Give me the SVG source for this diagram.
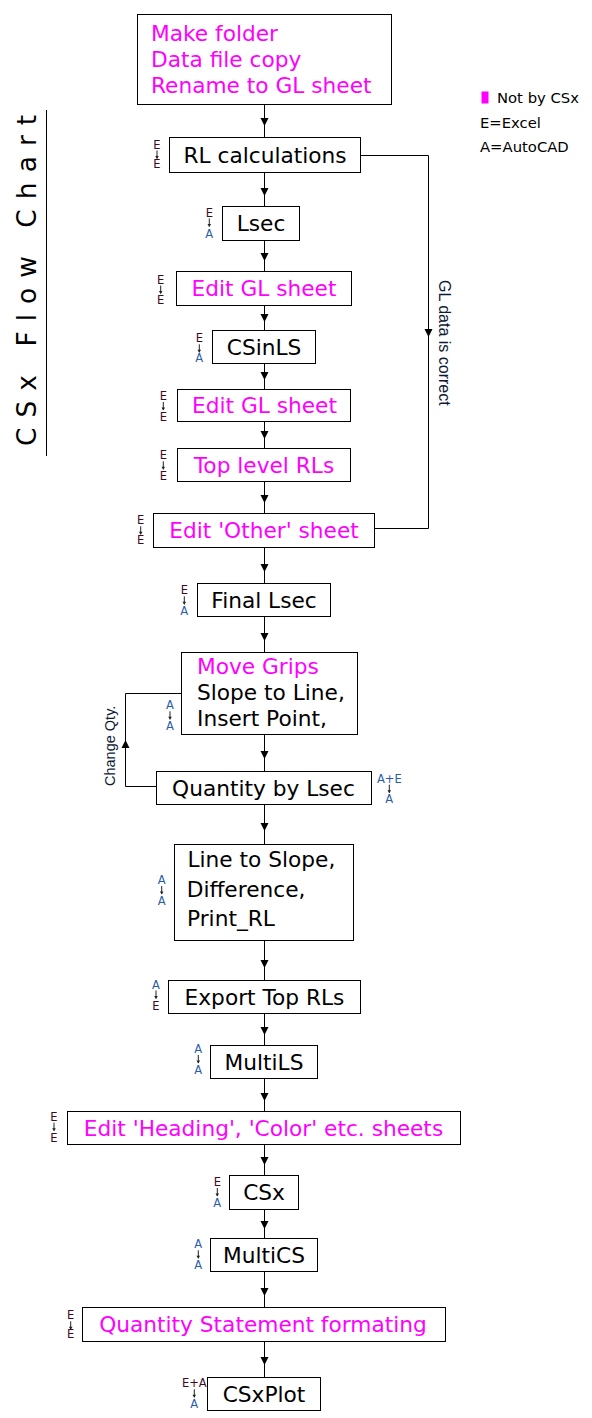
<svg xmlns="http://www.w3.org/2000/svg" width="592" height="1418" viewBox="0 0 592 1418">
<style>
.box{fill:#fff;stroke:#000;stroke-width:1}
.t{font-family:"DejaVu Sans",Verdana,sans-serif;font-size:21.7px;fill:#000}
.m{fill:#ff00ff}
.c{text-anchor:middle}
.ln{fill:none;stroke:#000;stroke-width:1}
.ah{fill:#000}
.lb{font-family:"DejaVu Sans",Verdana,sans-serif;font-size:11.5px;text-anchor:middle}
.e{fill:#3d0a28}
.a{fill:#2a5da8}
.sa{stroke:#222;stroke-width:1}
.lg{font-family:"DejaVu Sans",Verdana,sans-serif;font-size:14.8px;fill:#000}
.side{font-family:"Liberation Sans",Arial,sans-serif;fill:#0d1a33}
</style>
<defs>
<g id="sarr"><line class="sa" x1="0" y1="2" x2="0" y2="10"/><path d="M-1.8,7.5 L1.8,7.5 L0,10.5 Z" fill="#222"/></g>
</defs>

<g id="title">
<text transform="translate(36,446) rotate(-90)" style="font-family:'DejaVu Sans',Verdana,sans-serif;font-size:26.5px;letter-spacing:10px" fill="#000">CSx Flow Chart</text>
<line x1="46.5" y1="110" x2="46.5" y2="456" stroke="#000" stroke-width="1"/>
</g>

<g id="legend">
<rect x="481.5" y="91.5" width="7" height="12" fill="#ff00ff"/>
<text class="lg" x="497" y="103">Not by CSx</text>
<text class="lg" x="480" y="128">E=Excel</text>
<text class="lg" x="480" y="152">A=AutoCAD</text>
</g>

<g id="connectors">
<path class="ln" d="M264.5,104.5 V137.5 M264.5,172.5 V206.5 M264.5,240.5 V271.5 M264.5,305.5 V330.5 M264.5,363.5 V389.5 M264.5,421.5 V448.5 M264.5,481.5 V513.5 M264.5,547.5 V583.5 M264.5,616.5 V652.5 M264.5,734.5 V771.5 M264.5,804.5 V844.5 M264.5,940.5 V980.5 M264.5,1013.5 V1045.5 M264.5,1078.5 V1111.5 M264.5,1144.5 V1175.5 M264.5,1209.5 V1238.5 M264.5,1271.5 V1307.5 M264.5,1341.5 V1377.5"/>
<path class="ln" d="M360.5,155.5 H428.5 V528.5 H374.5"/>
<path class="ln" d="M156.5,786.5 H125.5 V693.5 H181.5"/>
<g class="ah">
<path d="M260.5,118 h8 l-4,8 z"/>
<path d="M260.5,188 h8 l-4,8 z"/>
<path d="M260.5,253 h8 l-4,8 z"/>
<path d="M260.5,314 h8 l-4,8 z"/>
<path d="M260.5,372 h8 l-4,8 z"/>
<path d="M260.5,431 h8 l-4,8 z"/>
<path d="M260.5,495 h8 l-4,8 z"/>
<path d="M260.5,564 h8 l-4,8 z"/>
<path d="M260.5,633 h8 l-4,8 z"/>
<path d="M260.5,751 h8 l-4,8 z"/>
<path d="M260.5,823 h8 l-4,8 z"/>
<path d="M260.5,960 h8 l-4,8 z"/>
<path d="M260.5,1027 h8 l-4,8 z"/>
<path d="M260.5,1093 h8 l-4,8 z"/>
<path d="M260.5,1157 h8 l-4,8 z"/>
<path d="M260.5,1221 h8 l-4,8 z"/>
<path d="M260.5,1288 h8 l-4,8 z"/>
<path d="M260.5,1357 h8 l-4,8 z"/>
<path d="M424.5,329 h8 l-4,8 z"/>
<path d="M121.5,748 h8 l-4,-8 z"/>
</g>
<text class="side" style="font-size:16px" transform="translate(439,280) rotate(90)">GL data is correct</text>
<text class="side" style="font-size:14.5px" transform="translate(115,786) rotate(-90)">Change Qty.</text>
</g>

<g id="n1">
<rect class="box" x="137.5" y="14.5" width="254" height="90"/>
<text class="t m" x="151" y="40.5">Make folder</text>
<text class="t m" x="151" y="66.5">Data file copy</text>
<text class="t m" x="151" y="92.5">Rename to GL sheet</text>
</g>

<g id="n2">
<rect class="box" x="169.5" y="137.5" width="191" height="35"/>
<text class="t c" x="265" y="162.8">RL calculations</text>
<text class="lb e" x="157" y="148.5">E</text><use href="#sarr" x="157" y="148.5"/><text class="lb e" x="157" y="168">E</text>
</g>

<g id="n3">
<rect class="box" x="222.5" y="206.5" width="77" height="34"/>
<text class="t c" x="261" y="231">Lsec</text>
<text class="lb e" x="209.3" y="216.5">E</text><use href="#sarr" x="209.3" y="216.5"/><text class="lb a" x="209.3" y="237.5">A</text>
</g>

<g id="n4">
<rect class="box" x="176.5" y="271.5" width="175" height="34"/>
<text class="t m c" x="264" y="295.5">Edit GL sheet</text>
<text class="lb e" x="160.7" y="283.5">E</text><use href="#sarr" x="160.7" y="283.5"/><text class="lb e" x="160.7" y="303.5">E</text>
</g>

<g id="n5">
<rect class="box" x="212.5" y="330.5" width="103" height="33"/>
<text class="t c" x="264" y="354.5">CSinLS</text>
<text class="lb e" x="199.3" y="342.3">E</text><use href="#sarr" x="199.3" y="342.3"/><text class="lb a" x="199.3" y="362.3">A</text>
</g>

<g id="n6">
<rect class="box" x="177.5" y="389.5" width="173" height="32"/>
<text class="t m c" x="264.5" y="413">Edit GL sheet</text>
<text class="lb e" x="163.3" y="400">E</text><use href="#sarr" x="163.3" y="400"/><text class="lb e" x="163.3" y="420.5">E</text>
</g>

<g id="n7">
<rect class="box" x="177.5" y="448.5" width="173" height="33"/>
<text class="t m c" x="264" y="472.5">Top level RLs</text>
<text class="lb e" x="163.3" y="459.3">E</text><use href="#sarr" x="163.3" y="459.3"/><text class="lb e" x="163.3" y="480">E</text>
</g>

<g id="n8">
<rect class="box" x="153.5" y="513.5" width="221" height="34"/>
<text class="t m c" x="264" y="538">Edit 'Other' sheet</text>
<text class="lb e" x="140.7" y="524.3">E</text><use href="#sarr" x="140.7" y="524.3"/><text class="lb e" x="140.7" y="544.3">E</text>
</g>

<g id="n9">
<rect class="box" x="197.5" y="583.5" width="133" height="33"/>
<text class="t c" x="264" y="607.5">Final Lsec</text>
<text class="lb e" x="184.3" y="594.3">E</text><use href="#sarr" x="184.3" y="594.3"/><text class="lb a" x="184.3" y="615">A</text>
</g>

<g id="n10">
<rect class="box" x="181.5" y="652.5" width="176" height="82"/>
<text class="t m" x="197" y="673.5">Move Grips</text>
<text class="t" x="197" y="700">Slope to Line,</text>
<text class="t" x="197" y="726">Insert Point,</text>
<text class="lb a" x="170" y="709.3">A</text><use href="#sarr" x="170" y="709.3"/><text class="lb a" x="170" y="730">A</text>
</g>

<g id="n11">
<rect class="box" x="156.5" y="771.5" width="215" height="33"/>
<text class="t c" x="263.5" y="795.5">Quantity by Lsec</text>
<text class="lb a" x="389.3" y="782.7">A+E</text><use href="#sarr" x="389.3" y="782.7"/><text class="lb a" x="389.3" y="803.3">A</text>
</g>

<g id="n12">
<rect class="box" x="174.5" y="844.5" width="179" height="96"/>
<text class="t" x="187.5" y="866.5">Line to Slope,</text>
<text class="t" x="186.7" y="896.5">Difference,</text>
<text class="t" x="187" y="926">Print_RL</text>
<text class="lb a" x="161.7" y="884">A</text><use href="#sarr" x="161.7" y="884"/><text class="lb a" x="161.7" y="904.5">A</text>
</g>

<g id="n13">
<rect class="box" x="168.5" y="980.5" width="192" height="33"/>
<text class="t c" x="264.5" y="1004.5">Export Top RLs</text>
<text class="lb a" x="156" y="988.5">A</text><use href="#sarr" x="156" y="988.5"/><text class="lb e" x="156" y="1010">E</text>
</g>

<g id="n14">
<rect class="box" x="210.5" y="1045.5" width="107" height="33"/>
<text class="t c" x="264" y="1069.5">MultiLS</text>
<text class="lb a" x="198.3" y="1053">A</text><use href="#sarr" x="198.3" y="1053"/><text class="lb a" x="198.3" y="1074.3">A</text>
</g>

<g id="n15">
<rect class="box" x="67.5" y="1111.5" width="393" height="33"/>
<text class="t m c" x="263.5" y="1135.5">Edit 'Heading', 'Color' etc. sheets</text>
<text class="lb e" x="54" y="1120.7">E</text><use href="#sarr" x="54" y="1120.7"/><text class="lb e" x="54" y="1141.7">E</text>
</g>

<g id="n16">
<rect class="box" x="229.5" y="1175.5" width="69" height="34"/>
<text class="t c" x="264" y="1200">CSx</text>
<text class="lb e" x="217.3" y="1186">E</text><use href="#sarr" x="217.3" y="1186"/><text class="lb a" x="217.3" y="1206.7">A</text>
</g>

<g id="n17">
<rect class="box" x="210.5" y="1238.5" width="107" height="33"/>
<text class="t c" x="264" y="1262.5">MultiCS</text>
<text class="lb a" x="198.3" y="1248.3">A</text><use href="#sarr" x="198.3" y="1248.3"/><text class="lb a" x="198.3" y="1269.3">A</text>
</g>

<g id="n18">
<rect class="box" x="82.5" y="1307.5" width="363" height="34"/>
<text class="t m c" x="263" y="1332">Quantity Statement formating</text>
<text class="lb e" x="70.7" y="1319.3">E</text><use href="#sarr" x="70.7" y="1319.3"/><text class="lb e" x="70.7" y="1338.3">E</text>
</g>

<g id="n19">
<rect class="box" x="207.5" y="1377.5" width="113" height="33"/>
<text class="t c" x="264" y="1401.5">CSxPlot</text>
<text class="lb e" x="194.3" y="1387.3">E+A</text><use href="#sarr" x="194.3" y="1387.3"/><text class="lb a" x="194.3" y="1408.3">A</text>
</g>
</svg>
